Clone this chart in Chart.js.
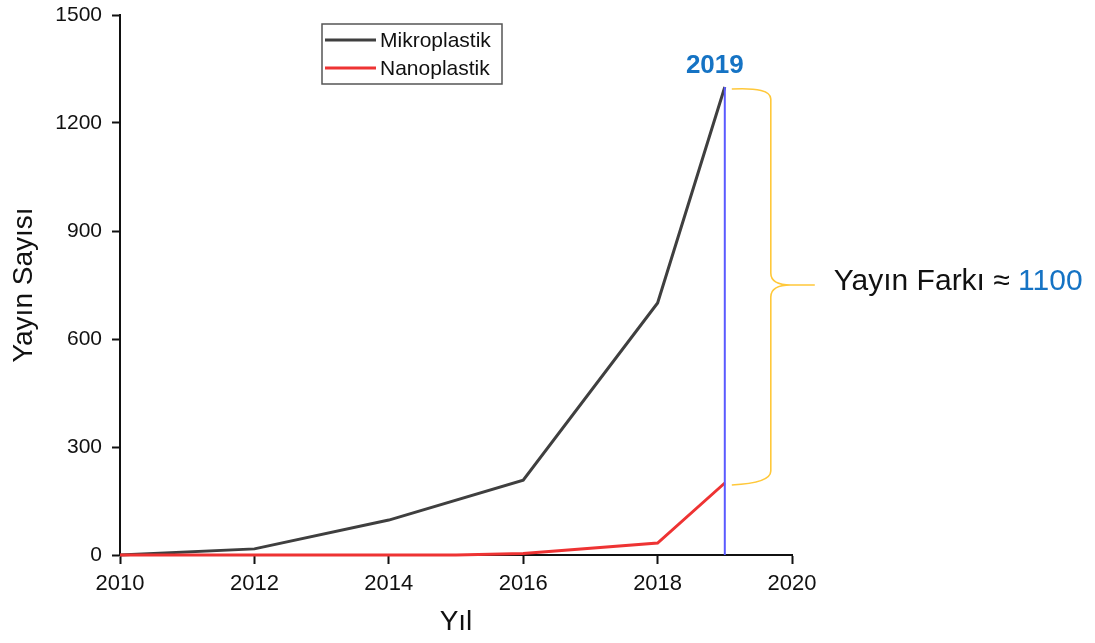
<!DOCTYPE html>
<html>
<head>
<meta charset="utf-8">
<script src="https://cdn.jsdelivr.net/npm/chart.js@4"></script>
<style>
  html, body { margin: 0; padding: 0; background: #fff; }
  #wrap { width: 1095px; height: 643px; }
</style>
</head>
<body>
<div id="wrap"><canvas id="chart" width="1095" height="643"></canvas></div>
<script>
// data
const years = [2010, 2012, 2014, 2016, 2018, 2019];
const mikroValues = [0, 17, 97, 208, 700, 1300];
const nanoYears = [2010, 2012, 2014, 2015, 2016, 2018, 2019];
const nanoValues = [0, 0, 0, 0, 4, 33, 200];
const yTicks = [0, 300, 600, 900, 1200, 1500];
const xTicks = [2010, 2012, 2014, 2016, 2018, 2020];
const markYear = 2019;
const diffLabel = 'Yayın Farkı ≈ ';
const diffValue = '1100';

const FONT = '"Liberation Sans", Arial, sans-serif';

// vertical line, brace, labels and legend box
const annotations = {
    id: 'annotations',
    afterDatasetsDraw(chart) {
        const ctx = chart.ctx;
        const x = chart.scales.x;
        const y = chart.scales.y;
        const px = x.getPixelForValue(markYear);
        const top = mikroValues[mikroValues.length - 1];
        const bottom = nanoValues[nanoValues.length - 1];
        const yTop = y.getPixelForValue(top);
        const yBot = y.getPixelForValue(bottom);
        const yMid = y.getPixelForValue((top + bottom) / 2);

        ctx.save();
        // blue marker line
        ctx.strokeStyle = '#5a5aff';
        ctx.lineWidth = 2;
        ctx.beginPath();
        ctx.moveTo(px, y.getPixelForValue(0));
        ctx.lineTo(px, yTop);
        ctx.stroke();

        // year label
        ctx.fillStyle = '#1573c4';
        ctx.font = 'bold 26px ' + FONT;
        ctx.textAlign = 'center';
        ctx.textBaseline = 'alphabetic';
        ctx.fillText(String(markYear), px - 10, yTop - 14);

        // brace
        const bx = px + 46;
        const r = 12;
        ctx.strokeStyle = '#ffc83a';
        ctx.lineWidth = 1.6;
        ctx.beginPath();
        ctx.moveTo(px + 7, yTop + 2);
        ctx.quadraticCurveTo(bx, yTop, bx, yTop + r);
        ctx.lineTo(bx, yMid - r);
        ctx.quadraticCurveTo(bx, yMid, bx + 20, yMid);
        ctx.lineTo(bx + 44, yMid);
        ctx.moveTo(bx + 20, yMid);
        ctx.quadraticCurveTo(bx, yMid, bx, yMid + r);
        ctx.lineTo(bx, yBot - r);
        ctx.quadraticCurveTo(bx, yBot, px + 7, yBot + 2);
        ctx.stroke();

        // difference text
        ctx.font = '30px ' + FONT;
        ctx.textAlign = 'left';
        ctx.textBaseline = 'middle';
        ctx.fillStyle = '#111';
        const tx = bx + 63;
        ctx.fillText(diffLabel, tx, yMid - 3);
        const w = ctx.measureText(diffLabel).width;
        ctx.fillStyle = '#1573c4';
        ctx.fillText(diffValue, tx + w, yMid - 3);

        // legend box
        const lx = 322, ly = 24, lw = 180, lh = 60;
        ctx.strokeStyle = '#555';
        ctx.lineWidth = 1.5;
        ctx.strokeRect(lx, ly, lw, lh);
        const items = chart.data.datasets;
        ctx.font = '21px ' + FONT;
        ctx.textBaseline = 'middle';
        items.forEach((ds, i) => {
            const yy = ly + 16 + i * 28;
            ctx.strokeStyle = ds.borderColor;
            ctx.lineWidth = 3;
            ctx.beginPath();
            ctx.moveTo(lx + 3, yy);
            ctx.lineTo(lx + 54, yy);
            ctx.stroke();
            ctx.fillStyle = '#111';
            ctx.fillText(ds.label, lx + 58, yy + 1);
        });
        ctx.restore();
    }
};

const ctx = document.getElementById('chart').getContext('2d');
new Chart(ctx, {
    type: 'line',
    data: {
        datasets: [
            {
                label: 'Mikroplastik',
                data: years.map((yr, i) => ({ x: yr, y: mikroValues[i] })),
                borderColor: '#3f3f3f',
                borderWidth: 3,
                pointRadius: 0,
                tension: 0,
                order: 2
            },
            {
                label: 'Nanoplastik',
                data: nanoYears.map((yr, i) => ({ x: yr, y: nanoValues[i] })),
                borderColor: '#ee3333',
                borderWidth: 3,
                pointRadius: 0,
                tension: 0,
                order: 1
            }
        ]
    },
    options: {
        responsive: false,
        animation: false,
        clip: false,
        layout: { padding: { top: 15, right: 303, left: 3, bottom: 0 } },
        plugins: {
            legend: { display: false },
            tooltip: { enabled: false }
        },
        scales: {
            x: {
                type: 'linear',
                min: 2010,
                max: 2020,
                afterBuildTicks: (s) => { s.ticks = xTicks.map(v => ({ value: v })); },
                afterFit: (s) => { s.height = 88; s.paddingLeft = 0; s.paddingRight = 0; },
                grid: { display: true, drawOnChartArea: false, tickLength: 9, tickWidth: 2, color: '#111' },
                border: { display: true, color: '#111', width: 2 },
                ticks: {
                    color: '#111',
                    font: { family: FONT, size: 22 },
                    padding: 7,
                    maxRotation: 0,
                    callback: (v) => String(v)
                },
                title: {
                    display: true,
                    text: 'Yıl',
                    color: '#111',
                    font: { family: FONT, size: 28 },
                    padding: { top: 6 }
                }
            },
            y: {
                type: 'linear',
                min: 0,
                max: 1500,
                afterBuildTicks: (s) => { s.ticks = yTicks.map(v => ({ value: v })); },
                afterFit: (s) => { s.width = 117; s.paddingTop = 0; s.paddingBottom = 0; },
                grid: { display: true, drawOnChartArea: false, tickLength: 8, tickWidth: 2, color: '#111' },
                border: { display: true, color: '#111', width: 2 },
                ticks: {
                    color: '#111',
                    font: { family: FONT, size: 21 },
                    padding: 10,
                    callback: (v) => String(v)
                },
                title: {
                    display: true,
                    text: 'Yayın Sayısı',
                    color: '#111',
                    font: { family: FONT, size: 28 },
                    padding: { bottom: 0 }
                }
            }
        }
    },
    plugins: [annotations]
});
</script>
</body>
</html>
